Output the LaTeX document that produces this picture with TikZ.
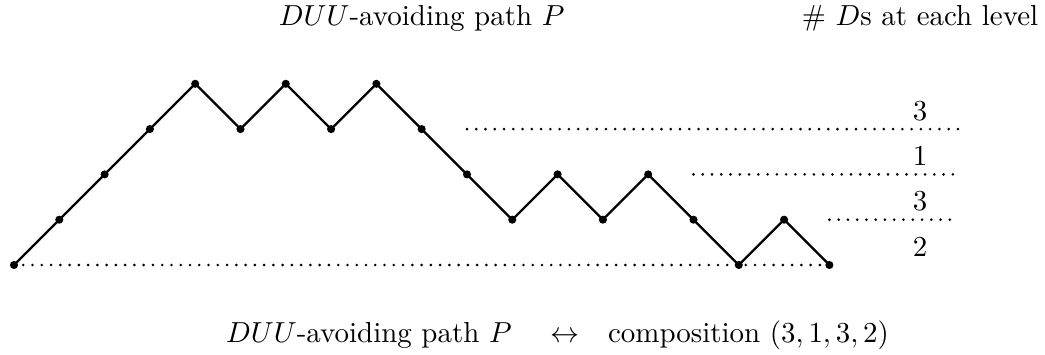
\documentclass[tikz,border=0pt]{standalone}
\usepackage{amsmath}
\usepackage{amssymb}
\usepackage{tikz}
\usetikzlibrary{positioning}
\tikzset{
    passo/.style  = {line width=0.8pt, black, line join=round},
    ponto/.style  = {circle, fill=black, inner sep=0pt, minimum size=2.8pt},
    nivel/.style  = {line width=1pt, dash pattern=on 0pt off 3.2pt, line cap=round},
    rotulo/.style = {anchor=base, font=\normalsize},
}

\begin{document}
\begin{tikzpicture}[x=0.55cm, y=0.55cm]
        \useasboundingbox (-0.309,-1.965) rectangle (22.76,5.85);
        % pontos do caminho
        \foreach \h [count=\i from 0] in {0,1,2,3,4,3,4,3,4,3,2,1,2,1,2,1,0,1,0}
            \coordinate (p\i) at (\i,\h);
        % linhas de nivel
        \coordinate (n3) at (10,3);
        \coordinate (n2) at (15,2);
        \coordinate (n1) at (18,1);
        \coordinate (f3) at (20.85,3);
        \coordinate (f2) at (20.85,2);
        \coordinate (f1) at (20.85,1);
        \draw[nivel] (p0) -- (p18);
        \draw[nivel] (n1) -- (f1);
        \draw[nivel] (n2) -- (f2);
        \draw[nivel] (n3) -- (f3);
        % caminho P
        \draw[passo] (p0) \foreach \i in {1,...,18}{ -- (p\i)};
        \foreach \i in {0,...,18}
            \node[ponto] (d\i) at (p\i) {};
        % numero de Ds por nivel
        \node (c3) at (20,3.4) {$3$};
        \node (c2) at (20,2.4) {$1$};
        \node (c1) at (20,1.4) {$3$};
        \node (c0) at (20,0.4) {$2$};
        % titulos
        \node[rotulo] (titulo) at (9,5.28) {$DUU$-avoiding path $P$};
        \node[rotulo] (contagem) at (20,5.28) {\# $D$s at each level};
        \node[rotulo] (legenda) at (12,-1.70) {$DUU$-avoiding path $P$ \quad$\leftrightarrow$\quad composition $(3,1,3,2)$};
    \end{tikzpicture}
\end{document}
